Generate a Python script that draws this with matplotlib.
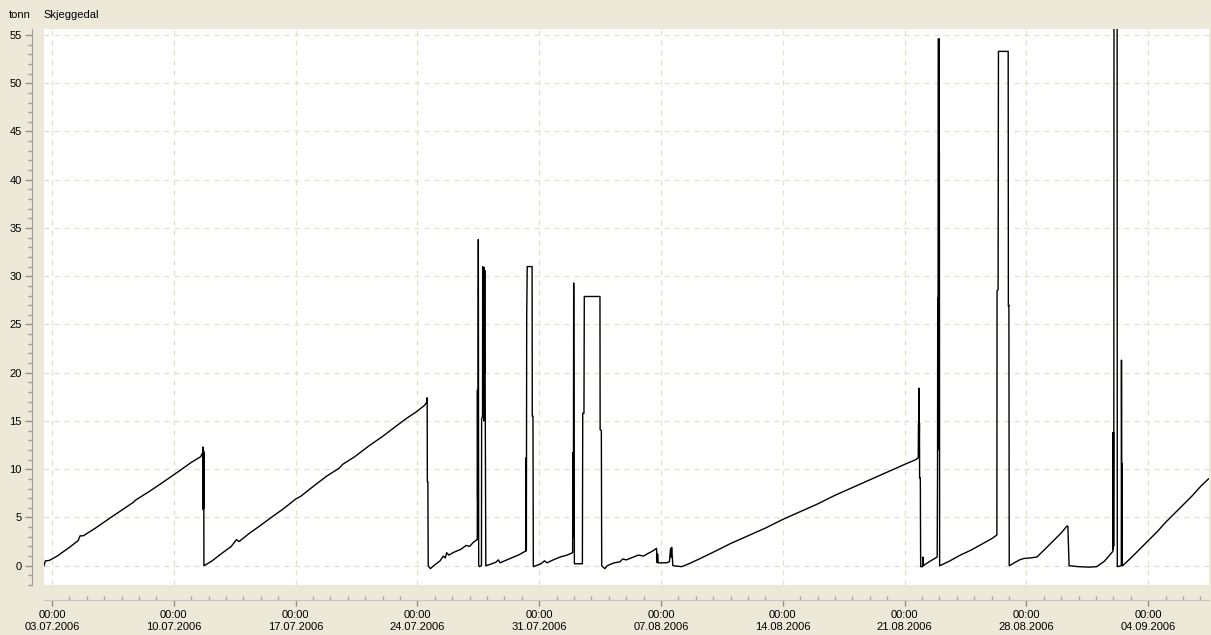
import datetime as dt
import numpy as np
import matplotlib
matplotlib.use("Agg")
import matplotlib.pyplot as plt
import matplotlib.dates as mdates

# silo level readings, (days after 03.07.2006 00:00, tonn)
fill1 = [(-0.46, 0.0), (-0.38, 0.5), (-0.15, 0.55), (0.3, 1.0), (1.0, 1.9), (1.5, 2.6),
         (1.62, 3.1), (1.8, 3.1), (2.5, 3.9), (3.3, 4.9), (4.2, 6.0), (4.7, 6.6), (4.8, 6.8),
         (5.6, 7.7), (6.5, 8.8), (7.3, 9.8), (8.0, 10.7), (8.55, 11.3), (8.62, 11.6), (8.66, 11.4)]
empty1 = [(8.68, 12.3), (8.69, 5.8), (8.70, 12.0), (8.71, 5.9), (8.72, 11.8), (8.73, 0.0)]

fill2 = [(8.74, 0.0), (9.2, 0.5), (9.7, 1.2), (10.3, 2.0), (10.6, 2.7), (10.75, 2.5), (11.3, 3.3),
         (12.0, 4.2), (12.6, 5.0), (13.3, 5.9), (14.0, 6.9), (14.3, 7.2), (15.0, 8.2), (15.8, 9.3),
         (16.5, 10.1), (16.7, 10.5), (17.4, 11.3), (18.2, 12.4), (19.0, 13.4), (19.8, 14.5),
         (20.4, 15.3), (20.9, 15.9), (21.4, 16.6), (21.52, 16.9)]
empty2 = [(21.56, 17.4), (21.57, 8.7), (21.60, 8.7), (21.62, 0.0)]

fill3 = [(21.65, -0.1), (21.75, -0.3), (22.0, 0.1), (22.3, 0.5), (22.49, 1.0), (22.6, 0.8),
         (22.68, 1.35), (22.8, 1.1), (23.1, 1.4), (23.5, 1.7), (23.8, 2.1), (24.0, 2.0),
         (24.2, 2.4), (24.42, 2.7)]
empty3 = [(24.44, 2.7), (24.45, 18.2), (24.46, 7.0), (24.47, 18.0), (24.48, 7.0), (24.50, 33.8),
          (24.52, 0.0), (24.57, -0.1), (24.68, 0.0), (24.69, 15.2), (24.74, 15.5), (24.75, 31.0),
          (24.77, 16.0), (24.79, 30.8), (24.81, 15.0), (24.83, 30.9), (24.85, 20.0),
          (24.87, 30.6), (24.90, 15.0), (24.93, 0.0)]

fill4 = [(24.94, 0.0), (25.2, 0.15), (25.5, 0.35), (25.65, 0.6), (25.75, 0.3), (26.0, 0.5),
         (26.4, 0.8), (26.8, 1.1), (27.2, 1.5)]
empty4 = [(27.24, 1.5), (27.25, 11.2), (27.26, 1.6), (27.27, 11.2), (27.28, 25.8), (27.31, 31.0),
          (27.59, 31.0), (27.60, 15.5), (27.64, 15.5), (27.66, -0.1)]

fill5 = [(27.8, 0.0), (28.1, 0.2), (28.3, 0.5), (28.45, 0.3), (28.8, 0.6), (29.2, 0.9),
         (29.6, 1.1), (29.92, 1.35)]
empty5 = [(29.93, 11.7), (29.94, 5.0), (29.95, 11.5), (29.96, 3.0), (29.98, 29.3), (30.02, 0.2),
          (30.48, 0.2), (30.50, 15.8), (30.57, 15.8), (30.59, 27.9), (31.49, 27.9),
          (31.50, 14.1), (31.57, 14.0), (31.59, 0.0)]

fill6 = [(31.7, -0.2), (31.78, -0.3), (31.9, 0.0), (32.3, 0.3), (32.64, 0.4), (32.8, 0.7),
         (33.0, 0.6), (33.41, 0.9), (33.7, 1.1), (34.0, 1.0), (34.18, 1.2), (34.5, 1.5),
         (34.74, 1.8), (34.78, 0.3), (34.80, 1.2), (34.84, 0.3), (35.3, 0.3), (35.48, 0.4),
         (35.55, 1.8), (35.58, 0.9), (35.61, 1.9), (35.68, 0.0), (36.19, -0.1)]

fill7 = [(36.6, 0.2), (37.2, 0.7), (38.0, 1.4), (39.0, 2.3), (40.0, 3.1), (41.0, 3.9),
         (42.0, 4.8), (43.0, 5.6), (44.0, 6.4), (45.0, 7.3), (46.0, 8.1), (47.0, 8.9),
         (48.0, 9.7), (49.0, 10.5), (49.65, 11.0), (49.78, 11.2)]
empty7 = [(49.80, 14.8), (49.81, 11.2), (49.82, 18.4), (49.83, 11.2), (49.85, 14.8), (49.86, 9.1),
          (49.90, 9.1), (49.92, -0.1), (50.03, -0.1), (50.05, 0.9), (50.07, 0.0)]

fill8 = [(50.4, 0.4), (50.87, 0.9)]
empty8 = [(50.89, 10.0), (50.90, 27.7), (50.91, 12.0), (50.92, 27.7), (50.93, 54.6),
          (50.99, 54.6), (51.01, 0.0)]

fill9 = [(51.03, 0.0), (51.6, 0.5), (52.2, 1.1), (52.8, 1.6), (53.4, 2.2), (54.0, 2.8),
         (54.28, 3.15)]
empty9 = [(54.30, 3.2), (54.31, 28.5), (54.37, 28.6), (54.39, 53.3), (54.95, 53.3),
          (54.96, 26.9), (54.99, 27.0), (55.01, 0.0)]

fill10 = [(55.03, 0.0), (55.3, 0.3), (55.6, 0.6), (55.85, 0.75), (56.2, 0.8), (56.6, 0.9),
          (57.0, 1.6), (57.5, 2.5), (58.0, 3.4), (58.32, 4.1)]
empty10 = [(58.38, 4.1), (58.45, 0.0), (59.0, -0.1), (59.6, -0.15), (60.04, -0.1)]

fill11 = [(60.5, 0.5), (60.97, 1.5)]
empty11 = [(60.98, 13.8), (60.99, 1.7), (61.00, 13.8), (61.01, 2.0), (61.02, 13.8), (61.03, 56.0),
           (61.21, 56.0), (61.22, -0.1), (61.45, 0.0), (61.46, 21.3), (61.47, 10.7),
           (61.48, 0.2), (61.49, 10.6), (61.50, 0.0), (61.53, 0.0)]

fill12 = [(62.0, 0.8), (62.5, 1.7), (63.0, 2.6), (63.5, 3.5), (64.0, 4.5), (64.5, 5.4),
          (65.0, 6.3), (65.5, 7.2), (66.0, 8.2), (66.46, 9.0)]

segments = [fill1, empty1, fill2, empty2, fill3, empty3, fill4, empty4, fill5, empty5,
            fill6, fill7, empty7, fill8, empty8, fill9, empty9, fill10, empty10,
            fill11, empty11, fill12]

start = dt.datetime(2006, 7, 3)
y_ticks = list(range(0, 60, 5))

pts = [p for seg in segments for p in seg]
days = np.array([p[0] for p in pts])
tonn = np.array([p[1] for p in pts])
x = mdates.date2num(start) + days

# --- Figure (XP style) ---
W, H = 1211, 635
bg = "#ECE9D8"
plt.rcParams["font.family"] = ["Liberation Sans", "DejaVu Sans"]
plt.rcParams["font.size"] = 8

fig = plt.figure(figsize=(W / 100, H / 100), dpi=100, facecolor=bg)
ax = fig.add_axes([44 / W, (H - 585) / H, (1209 - 44) / W, (585 - 29) / H])
ax.set_facecolor("white")

ax.plot(x, tonn, color="black", lw=1.0)

x0 = mdates.date2num(start)
ax.set_xlim(x0 - 0.46, x0 + 66.49)
ax.set_ylim(-1.97, 55.62)

ax.set_yticks(y_ticks)
ax.set_yticks(np.arange(-2, 56, 1), minor=True)
ax.xaxis.set_major_locator(mdates.WeekdayLocator(byweekday=mdates.MO))
ax.xaxis.set_minor_locator(mdates.DayLocator())
ax.xaxis.set_major_formatter(mdates.DateFormatter("%H:%M\n%d.%m.%Y"))

for s in ("top", "right"):
    ax.spines[s].set_visible(False)
ax.spines["left"].set_position(("outward", 9))
ax.spines["left"].set_color("#A0A0A0")
ax.spines["bottom"].set_position(("outward", 11))
ax.spines["bottom"].set_color("#C4C4C4")

ax.tick_params(axis="y", which="major", length=5, width=1, color="#909090", pad=2, labelsize=8)
ax.tick_params(axis="y", which="minor", length=3, width=1, color="#A0A0A0")
ax.tick_params(axis="x", which="major", length=4, width=1, color="#909090", pad=3, labelsize=8)
ax.tick_params(axis="x", which="minor", direction="in", length=3, width=1, color="#A8A8A8")
for lab in ax.get_xticklabels():
    lab.set_linespacing(1.3)

ax.grid(which="major", color="#E4E0C8", linestyle=(0, (4, 4)), linewidth=0.9)
ax.set_axisbelow(True)

fig.text(9 / W, 1 - 15 / H, "tonn", va="center", ha="left", fontsize=8)
fig.text(43 / W, 1 - 15 / H, "Skjeggedal", va="center", ha="left", fontsize=8)

fig.savefig("out.png", dpi=100, facecolor=bg)
